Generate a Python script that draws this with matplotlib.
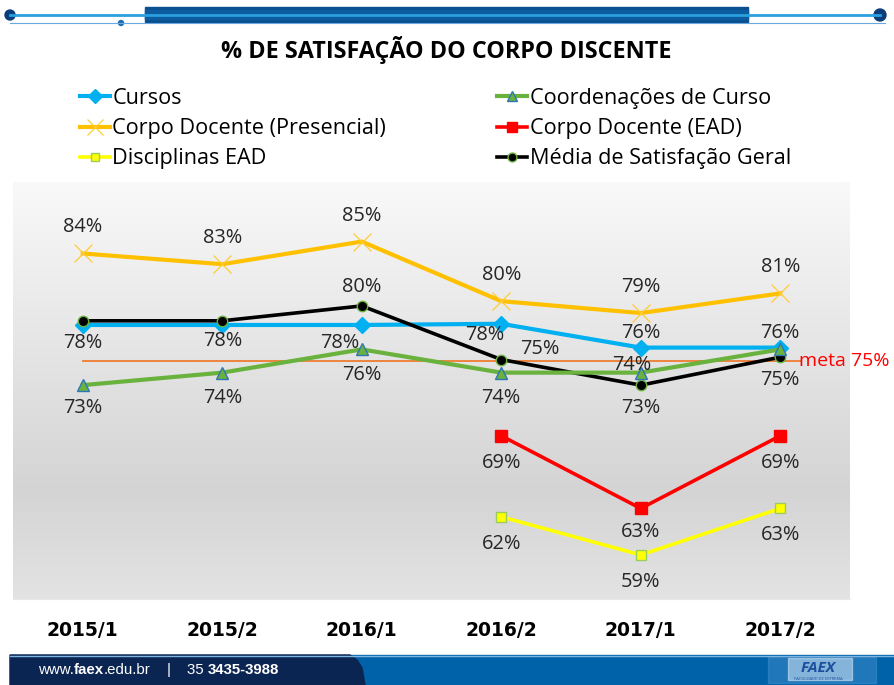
import numpy as np
import matplotlib
matplotlib.use("Agg")
import matplotlib.pyplot as plt
from matplotlib.patches import Rectangle, Polygon, Circle
from matplotlib.colors import LinearSegmentedColormap

# dados
semestres = ["2015/1", "2015/2", "2016/1", "2016/2", "2017/1", "2017/2"]
cursos = [78.0, 78.0, 78.0, 78.1, 76.1, 76.1]
coordenacoes = [72.95, 74.0, 75.95, 74.0, 74.0, 75.95]
docente_presencial = [84.0, 83.1, 85.0, 80.0, 79.0, 80.65]
docente_ead = [np.nan, np.nan, np.nan, 68.7, 62.6, 68.7]
disciplinas_ead = [np.nan, np.nan, np.nan, 61.9, 58.7, 62.6]
media_geral = [78.35, 78.35, 79.6, 75.1, 72.95, 75.3]
meta = 75

W, H = 894, 685
fig = plt.figure(figsize=(W / 100, H / 100), dpi=100)
plt.rcParams['font.family'] = ['Open Sans', 'DejaVu Sans']

# fundo do slide (cabeçalho e rodapé), em pixels
bg = fig.add_axes([0, 0, 1, 1], zorder=-5)
bg.set_xlim(0, W)
bg.set_ylim(H, 0)
bg.axis('off')

bg.plot([10, 880], [15, 15], color='#2aa0e0', lw=2)
bg.add_patch(Rectangle((145, 7), 603, 15, color='#0a4f8f'))
bg.add_patch(Rectangle((145, 10), 603, 9, color='#0b5d9f'))
bg.add_patch(Circle((10, 15), 5, color='#0b3d7a'))
bg.add_patch(Circle((880, 15), 6, color='#0b3d7a'))
bg.add_patch(Circle((121, 23), 2.5, color='#1b6fb5'))
bg.plot([10, 885], [22.5, 22.5], color='#6aa8e0', lw=0.8)

bg.add_patch(Rectangle((10, 655), W - 10, 30, color='#0063aa'))
bg.add_patch(Polygon([(10, 655), (350, 655), (357, 660), (362, 668),
                      (365, 685), (10, 685)], color='#0b2552'))
bg.plot([10, W], [655.5, 655.5], color='#7fb3e0', lw=1)
bg.add_patch(Rectangle((768, 657), 108, 26, color='#5d9fd6', alpha=0.35))
bg.add_patch(Rectangle((788, 658), 64, 22, color='#d8e8f6', alpha=0.55))
bg.text(818, 668, "FAEX", color='#1d4f9e', fontsize=11, fontweight='bold',
        fontstyle='italic', ha='center', va='center')
bg.text(818, 679, "FACULDADE DE EXTREMA", color='#1d4f9e', fontsize=3,
        ha='center', va='center')

# texto do rodapé, peça por peça
fig.canvas.draw()
rend = fig.canvas.get_renderer()
pecas = [("www.", 'normal', 0), ("faex", 'bold', 0), (".edu.br", 'normal', 0),
         ("|", 'normal', 16), ("35 ", 'normal', 16), ("3435-3988", 'bold', 0)]
px = 38
for txt, peso, gap in pecas:
    px += gap
    t = bg.text(px, 670, txt, color='white', fontsize=10.8, va='center',
                fontweight=peso, family='Liberation Sans')
    bb = t.get_window_extent(rend)
    px += bb.width

# título
fig.text(446 / W, 1 - 50 / H, "% DE SATISFAÇÃO DO CORPO DISCENTE",
         ha='center', va='center', fontsize=16.8, fontweight='bold',
         color='black')

# área do gráfico
ax = fig.add_axes([13 / W, 1 - 599 / H, 837 / W, 417 / H])
x = np.arange(len(semestres))
ax.set_xlim(-0.5, 5.5)
ax.set_ylim(55, 90)

grad = LinearSegmentedColormap.from_list(
    'g', [(0, '#f9f9f9'), (0.74, '#d4d4d4'), (1, '#e3e3e3')])
ax.imshow(np.linspace(0, 1, 256).reshape(-1, 1), cmap=grad, aspect='auto',
          extent=[-0.5, 5.5, 55, 90], origin='upper', zorder=0)

for s in ax.spines.values():
    s.set_visible(False)
ax.spines['bottom'].set_visible(True)
ax.spines['bottom'].set_color('#e8e8e8')
ax.set_yticks([])
ax.set_xticks(x)
ax.set_xticklabels(semestres, family='DejaVu Sans', fontweight='bold',
                   fontsize=13.5)
ax.tick_params(axis='x', length=0, pad=15.5)

# linha da meta
ax.plot([0, 5.15], [meta, meta], color='#ed7d31', lw=1.3, zorder=2)
ax.annotate("meta 75%", (5.15, meta), xytext=(-2, 0), textcoords='offset pixels',
            ha='left', va='center', color='#ff0000', fontsize=14)

estilos = [
    ("Cursos", cursos, dict(color='#00b0f0', lw=3, marker='D', ms=8,
                            mfc='#00b0f0', mec='#00b0f0')),
    ("Coordenações de Curso", coordenacoes,
     dict(color='#6ab23e', lw=3, marker='^', ms=9, mfc='#6ab23e', mec='#2e75b6',
          mew=1)),
    ("Corpo Docente (Presencial)", docente_presencial,
     dict(color='#ffc000', lw=3, marker='x', ms=13.5, mec='#ffcc33', mew=0.9)),
    ("Corpo Docente (EAD)", docente_ead,
     dict(color='#ff0000', lw=2.6, marker='s', ms=8.5, mfc='#ff0000',
          mec='#ff0000')),
    ("Disciplinas EAD", disciplinas_ead,
     dict(color='#ffff00', lw=2.6, marker='s', ms=7.5, mfc='#ffff00',
          mec='#9acd5a', mew=1)),
    ("Média de Satisfação Geral", media_geral,
     dict(color='black', lw=2.6, marker='o', ms=7.5, mfc='black',
          mec='#6ab23e', mew=1)),
]

ordem_z = {"Corpo Docente (Presencial)": 3, "Cursos": 4, "Média de Satisfação Geral": 5,
           "Coordenações de Curso": 6, "Corpo Docente (EAD)": 4, "Disciplinas EAD": 4}
handles = {}
for nome, vals, st in estilos:
    h, = ax.plot(x, vals, zorder=ordem_z[nome], label=nome, **st)
    handles[nome] = h

# deslocamento dos rótulos (pixels)
desloc = {
    "Corpo Docente (Presencial)": [(0, 26)] * 6,
    "Cursos": [(0, -18), (0, -16), (-22, -18), (-16, -11), (0, 15), (0, 15)],
    "Coordenações de Curso": [(0, -23), (0, -25), (0, -26), (0, -25), (-9, 8), None],
    "Média de Satisfação Geral": [None, None, (0, 19), (39, 11), (0, -23), (0, -23)],
    "Corpo Docente (EAD)": [None, None, None, (0, -27), (0, -24), (0, -27)],
    "Disciplinas EAD": [None, None, None, (0, -27), (0, -27), (0, -27)],
}
for nome, vals, st in estilos:
    for i, v in enumerate(vals):
        d = desloc[nome][i]
        if d is None or np.isnan(v):
            continue
        ax.annotate(f"{v:.0f}%", (x[i], v), xytext=d, textcoords='offset pixels',
                    ha='center', va='center', fontsize=14.4, color='#262626',
                    zorder=8)

# legenda em duas colunas
leg_kw = dict(frameon=False, fontsize=15.6, handlelength=1.4, handletextpad=0.1,
              labelspacing=0.42, borderpad=0, borderaxespad=0, markerscale=0.85)
esq = ["Cursos", "Corpo Docente (Presencial)", "Disciplinas EAD"]
dir_ = ["Coordenações de Curso", "Corpo Docente (EAD)", "Média de Satisfação Geral"]
l1 = fig.legend([handles[n] for n in esq], esq, loc='upper left',
                bbox_to_anchor=(80 / W, 1 - 88 / H), **leg_kw)
l2 = fig.legend([handles[n] for n in dir_], dir_, loc='upper left',
                bbox_to_anchor=(497 / W, 1 - 88 / H), **leg_kw)

fig.savefig("out.png", dpi=100)
